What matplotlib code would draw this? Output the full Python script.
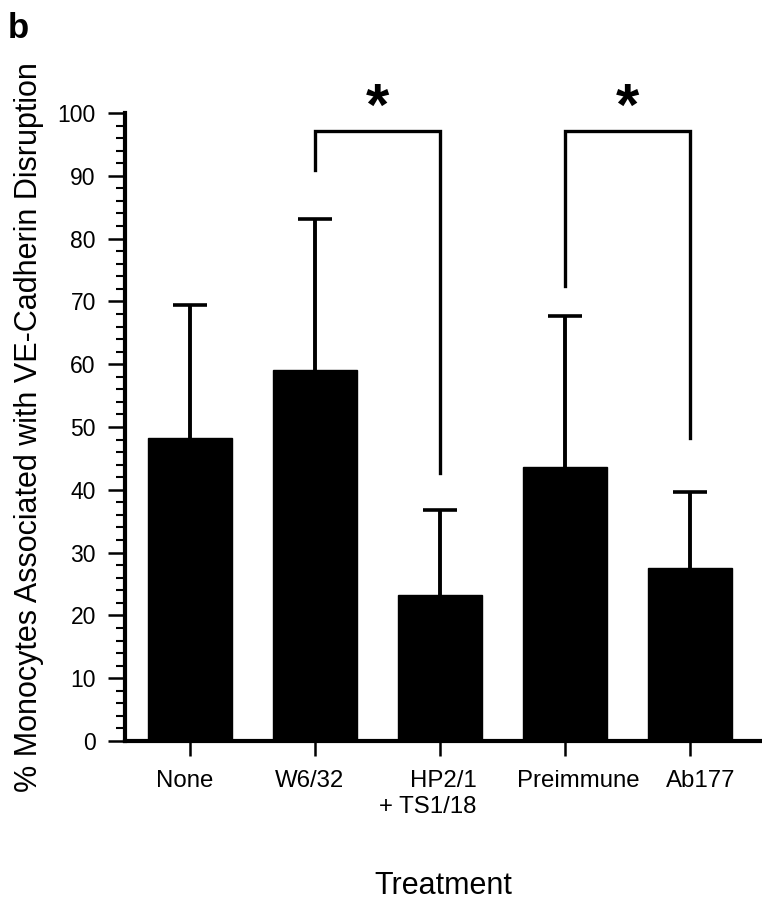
import matplotlib
matplotlib.use("Agg")
import matplotlib.pyplot as plt
import matplotlib.transforms as mtransforms
import numpy as np
from matplotlib.ticker import MultipleLocator

plt.rcParams['font.family'] = ['Liberation Sans', 'DejaVu Sans']

# ---- data ----
categories = ["None", "W6/32", "HP2/1\n+ TS1/18", "Preimmune", "Ab177"]
means = [48.2, 59.0, 23.3, 43.7, 27.5]
errors_up = [21.2, 24.1, 13.5, 24.0, 12.2]
bracket_pairs = [(1, 2), (3, 4)]
bracket_top = [97.2, 97.2]
bracket_left_bottom = [90.9, 72.5]
bracket_right_bottom = [42.7, 48.2]
sig_labels = ["*", "*"]
y_ticks = [0, 10, 20, 30, 40, 50, 60, 70, 80, 90, 100]

fig = plt.figure(figsize=(7.62, 9.0), dpi=100)
ax = fig.add_axes([125/762, 1 - 741/900, (760-125)/762, (741-113)/900])

x = np.arange(len(categories))
ax.bar(x, means, width=0.67, color='black', edgecolor='black', zorder=2)
_, caps, _ = ax.errorbar(x, means, yerr=[np.zeros(len(means)), errors_up], fmt='none',
                         ecolor='black', elinewidth=2.8, capsize=12, capthick=2.6,
                         zorder=1)
caps[0].set_visible(False)  # no lower cap

for (i, j), top, lb, rb, s in zip(bracket_pairs, bracket_top, bracket_left_bottom,
                                  bracket_right_bottom, sig_labels):
    ax.plot([i, i, j, j], [lb, top, top, rb], color='black', lw=2.4,
            solid_joinstyle='miter', clip_on=False)
    ax.text((i + j) / 2, top + 3.3, s, ha='center', va='center', fontsize=43,
            fontweight='bold', clip_on=False)

ax.set_xlim(-0.52, 4.56)
ax.set_ylim(0, 100)
ax.set_yticks(y_ticks)
ax.yaxis.set_minor_locator(MultipleLocator(2))
ax.set_xticks(x)
ax.set_xticklabels(categories, fontsize=17.3, linespacing=1.2)
ax.tick_params(axis='y', which='major', direction='out', length=12, width=1.8,
               labelsize=16.5, pad=9)
ax.tick_params(axis='y', which='minor', direction='out', length=6.5, width=1.5)
ax.tick_params(axis='x', which='major', direction='out', length=11, width=1.8, pad=10)

# small horizontal offsets of the category labels as in the reference (pixels)
label_shift_px = [-5, -5, -12, 13, 11]
for lab, dx in zip(ax.get_xticklabels(), label_shift_px):
    lab.set_multialignment('right')
    lab.set_transform(lab.get_transform() +
                      mtransforms.ScaledTranslation(dx / 100, 0, fig.dpi_scale_trans))

for side in ['top', 'right']:
    ax.spines[side].set_visible(False)
ax.spines['left'].set_linewidth(3)
ax.spines['bottom'].set_linewidth(3)

ax.set_ylabel("% Monocytes Associated with VE-Cadherin Disruption", fontsize=22)
ax.yaxis.set_label_coords(-0.128, 0.5)

fig.text(443/762, 1 - 894/900, "Treatment", fontsize=22, ha='center', va='baseline')
fig.text(8/762, 1 - 38/900, "b", fontsize=25, fontweight='bold', ha='left',
         va='baseline')

fig.savefig("out.png", dpi=100)
